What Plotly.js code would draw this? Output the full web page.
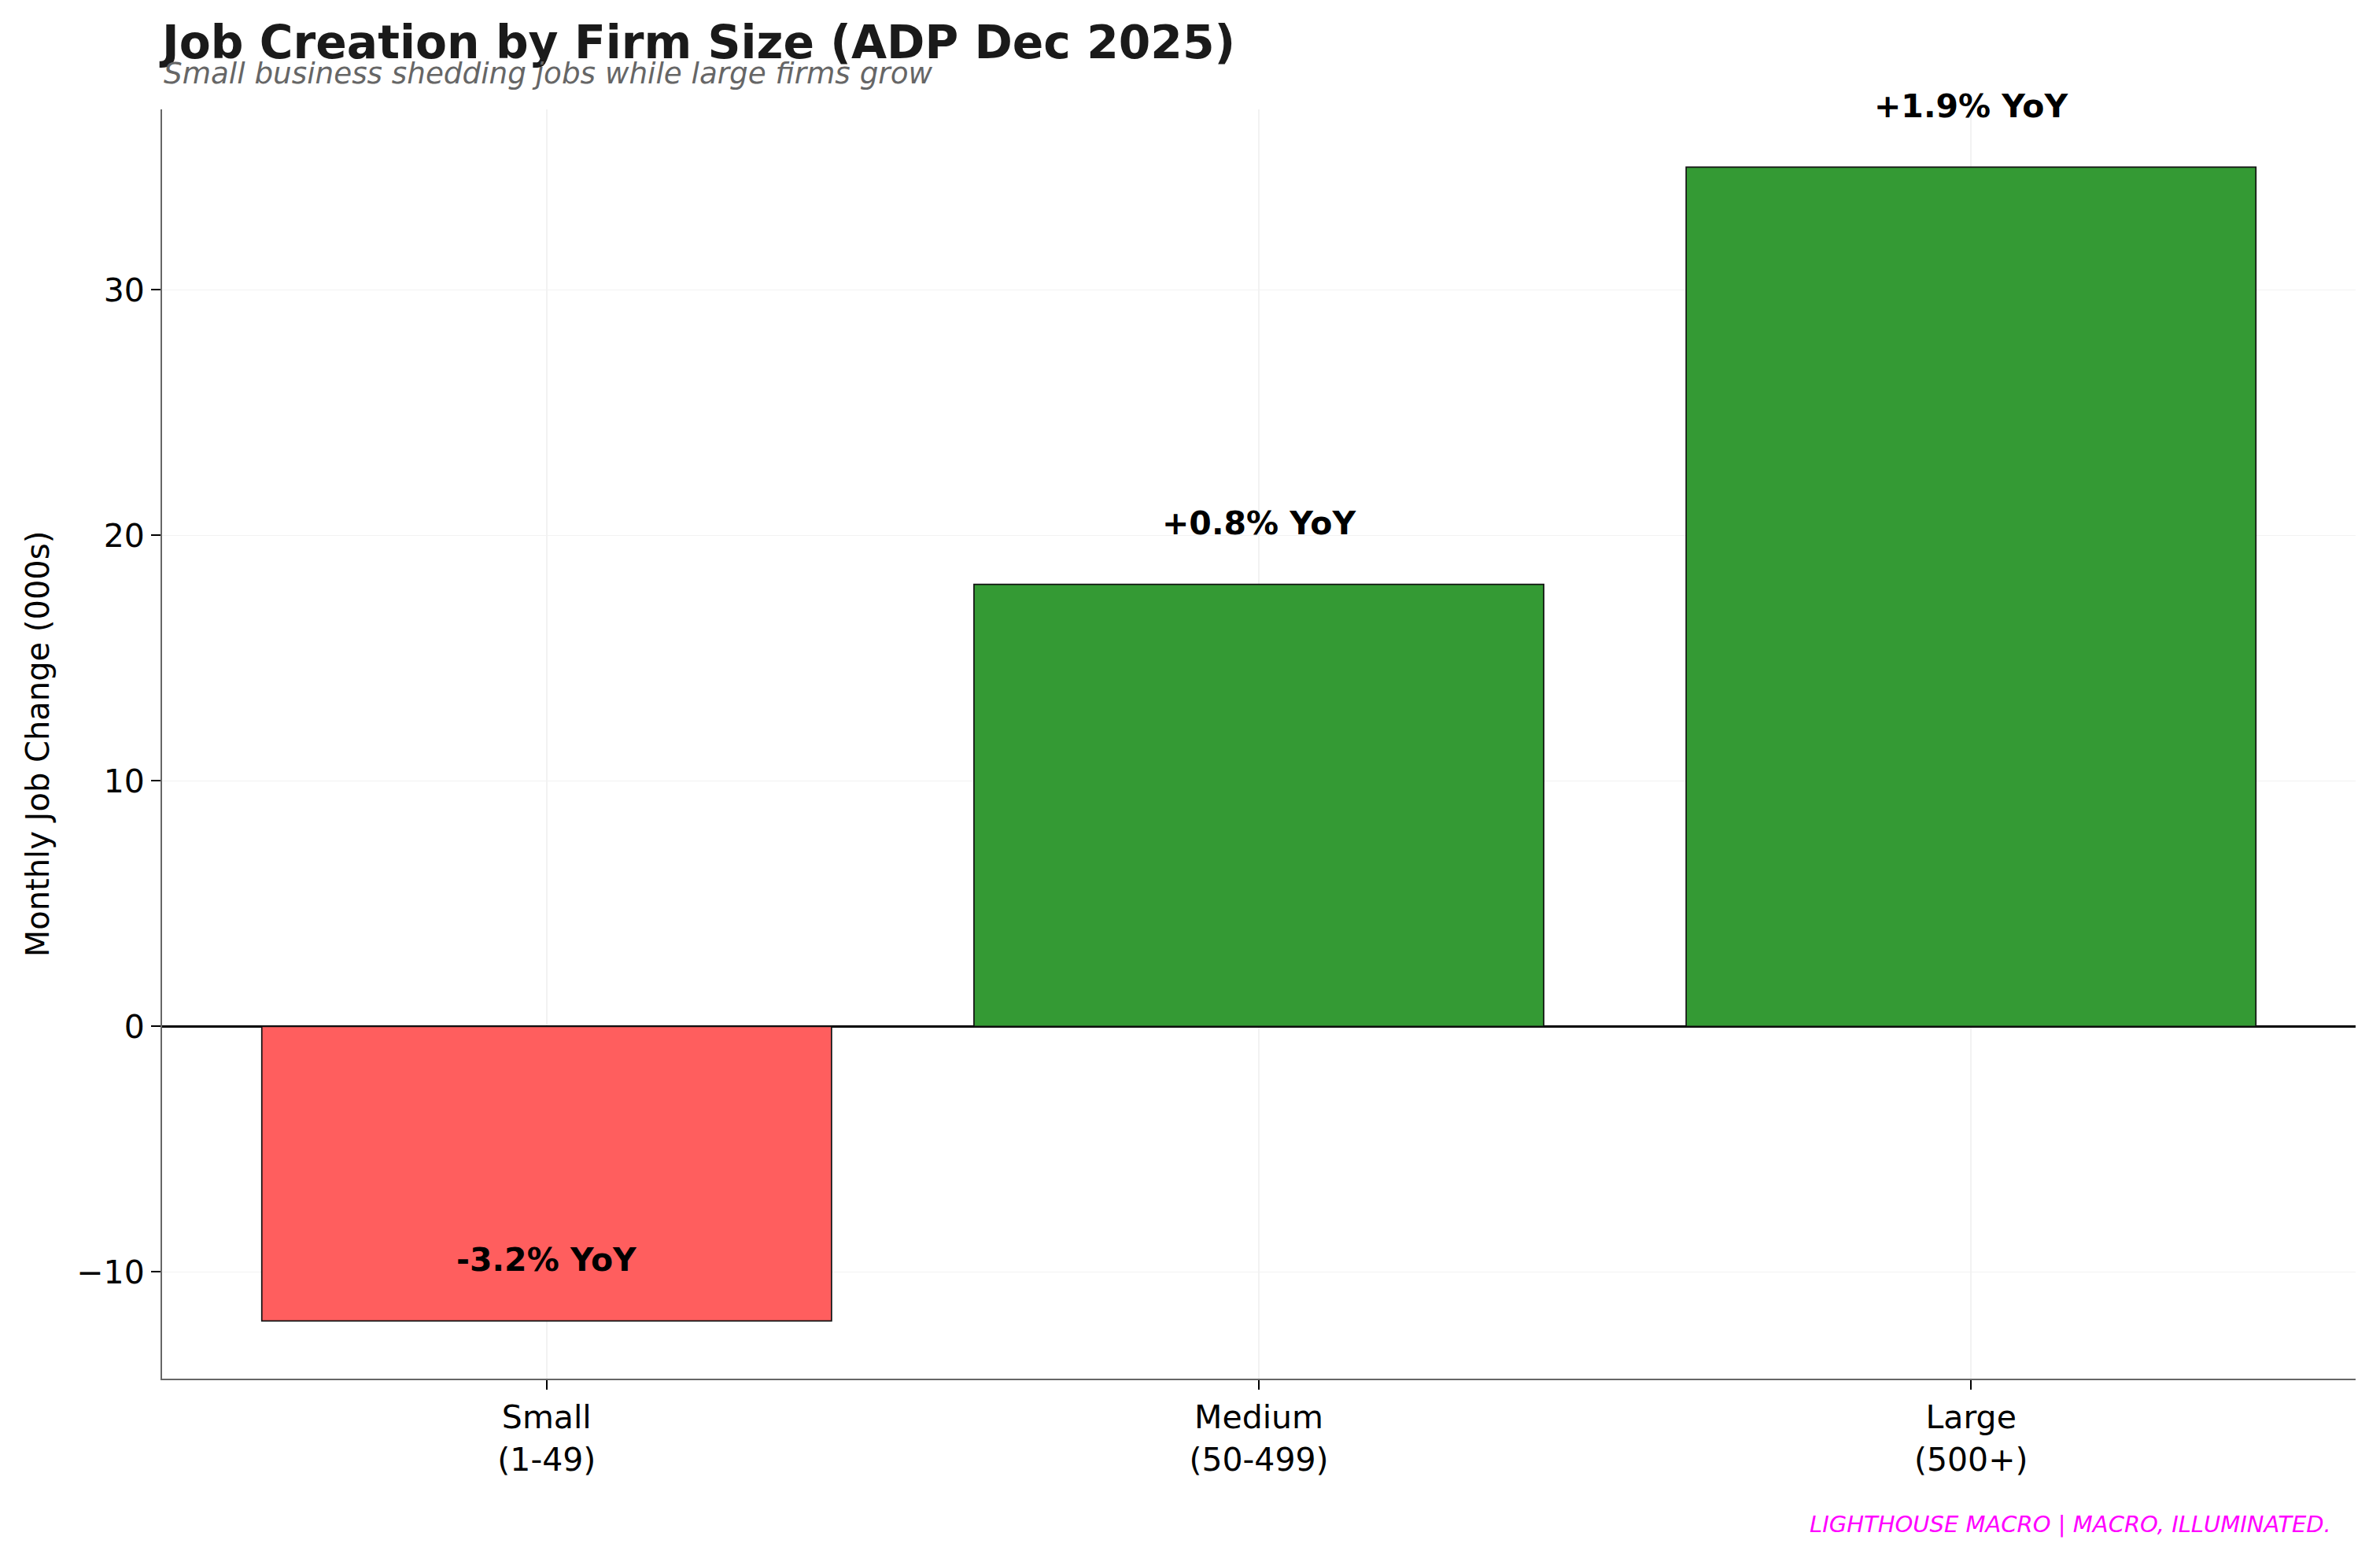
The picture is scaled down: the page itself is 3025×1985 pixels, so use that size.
<!DOCTYPE html>
<html>
<head>
<meta charset="utf-8">
<script src="https://cdn.plot.ly/plotly-3.0.1.min.js"></script>
<style>html,body{margin:0;padding:0;background:#fff;}</style>
</head>
<body>
<div id="chart" style="width:3025px;height:1985px;"></div>
<script>
// ---- data ----
const categories = ["Small<br>(1-49)", "Medium<br>(50-499)", "Large<br>(500+)"];
const jobChange = [-12, 18, 35];
const yoyLabels = ["-3.2% YoY", "+0.8% YoY", "+1.9% YoY"];
const yTicks = [-10, 0, 10, 20, 30];

const xIdx = categories.map((_, i) => i);
const barColors = jobChange.map(v => v < 0 ? "rgb(255,94,94)" : "rgb(52,154,52)");

const font = "DejaVu Sans, Liberation Sans, sans-serif";

const trace = {
  type: "bar",
  x: xIdx,
  y: jobChange,
  width: 0.8,
  marker: {color: barColors, line: {color: "#111", width: 1.7}},
  hoverinfo: "none"
};

const annotations = xIdx.map((i) => ({
  x: i, y: jobChange[i] + 2, xref: "x", yref: "y",
  text: "<b>" + yoyLabels[i] + "</b>",
  showarrow: false, xanchor: "center", yanchor: "bottom", yshift: -11,
  font: {family: font, size: 41, color: "#000"}
}));

annotations.push({
  xref: "paper", yref: "paper", x: 0, y: 1.0285,
  xanchor: "left", yanchor: "middle",
  text: "<i>Small business shedding jobs while large firms grow</i>",
  showarrow: false,
  font: {family: font, size: 37.3, color: "#666"}
});
annotations.push({
  xref: "paper", yref: "paper", x: 0.9896, y: -0.1147,
  xanchor: "right", yanchor: "middle",
  text: "<i>LIGHTHOUSE MACRO | MACRO, ILLUMINATED.</i>",
  showarrow: false,
  font: {family: font, size: 29, color: "#FF00FF"}
});

const layout = {
  width: 3025, height: 1985,
  margin: {l: 206, r: 31, t: 139, b: 233, pad: 0},
  paper_bgcolor: "#fff", plot_bgcolor: "#fff",
  showlegend: false,
  title: {
    text: "<b>Job Creation by Firm Size (ADP Dec 2025)</b>",
    xref: "paper", x: 0, xanchor: "left",
    yref: "container", y: 1 - 54/1985, yanchor: "middle",
    font: {family: font, size: 58.3, color: "#1a1a1a"}
  },
  xaxis: {
    range: [-0.54, 2.54],
    tickmode: "array", tickvals: xIdx, ticktext: categories,
    ticks: "outside", ticklen: 12, tickwidth: 2, tickcolor: "#000",
    showline: true, linecolor: "#666", linewidth: 2,
    showgrid: true, gridcolor: "#f2f2f2", gridwidth: 1.5,
    zeroline: false,
    tickfont: {family: font, size: 41, color: "#000"},
    fixedrange: true
  },
  yaxis: {
    range: [-14.35, 37.35],
    tickmode: "array", tickvals: yTicks,
    ticks: "outside", ticklen: 12, tickwidth: 2, tickcolor: "#000",
    showline: true, linecolor: "#666", linewidth: 2,
    showgrid: true, gridcolor: "#f2f2f2", gridwidth: 1.5,
    zeroline: true, zerolinecolor: "#000", zerolinewidth: 3.5,
    tickfont: {family: font, size: 41, color: "#000"},
    title: {text: "Monthly Job Change (000s)", standoff: 22,
            font: {family: font, size: 40, color: "#000"}},
    fixedrange: true
  },
  annotations: annotations
};

Plotly.newPlot("chart", [trace], layout, {displayModeBar: false, staticPlot: true});
</script>
</body>
</html>
